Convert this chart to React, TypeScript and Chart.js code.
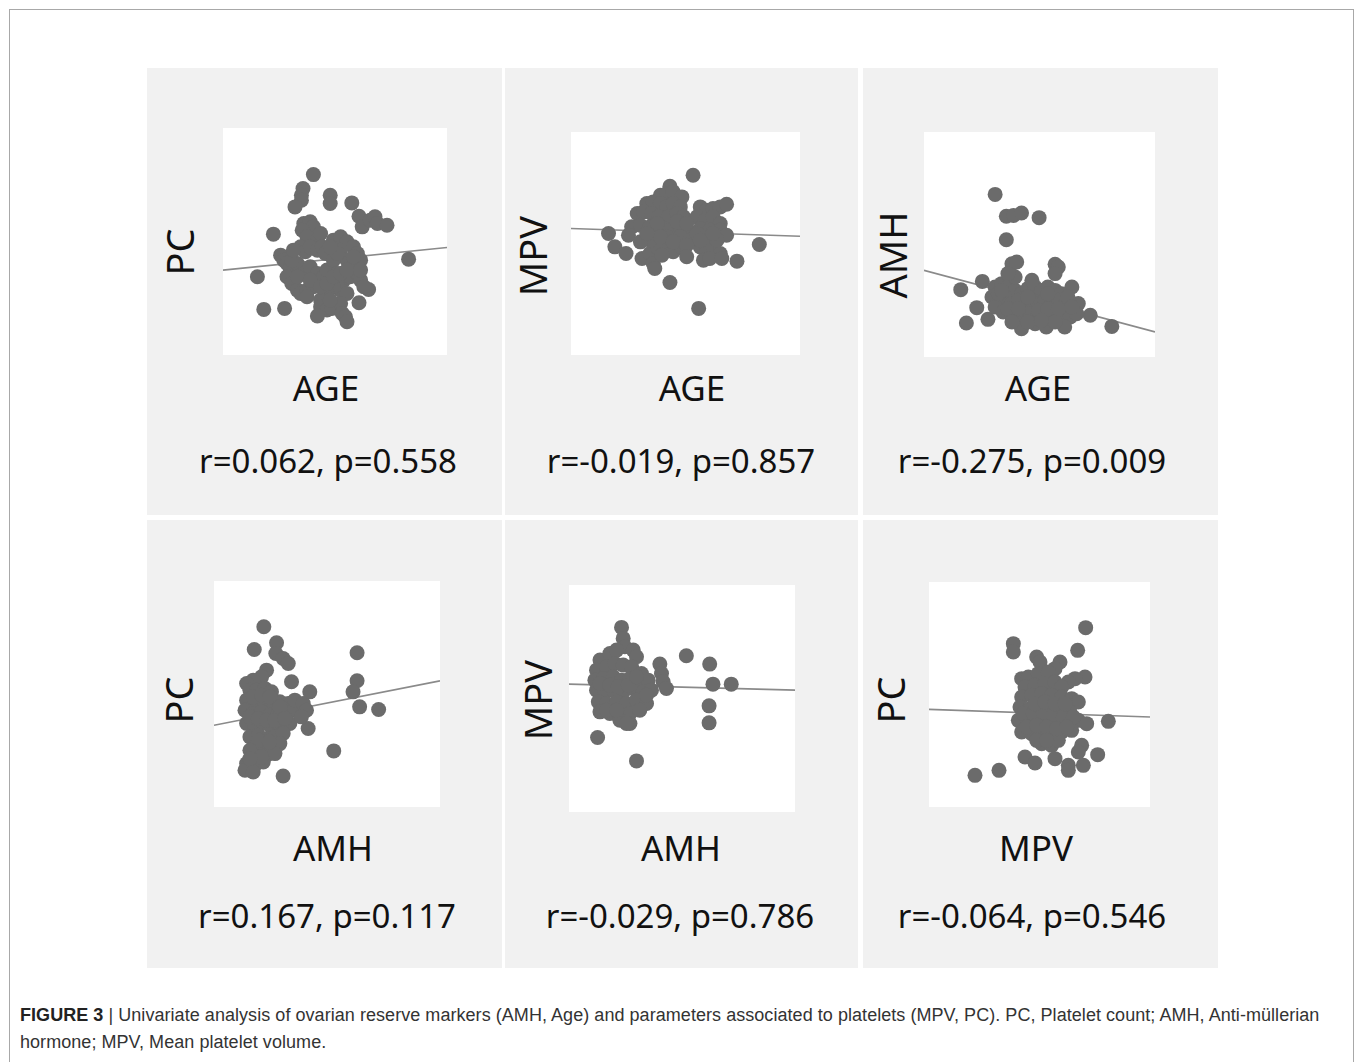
import React, { useEffect, useRef } from "react";
import { Chart, registerables } from "chart.js";

Chart.register(...registerables);

// ---------- DATA (x, y) ----------
// Panel 1: AGE (x) vs PC (y)
const ageVsPc: [number, number][] = [
  [29.3, 371], [28.0, 350], [27.8, 340], [27.8, 332.5], [27.0, 322.5], [31.4, 340], [31.4, 327.5],
  [34.1, 328.5], [35.0, 308.5], [35.4, 292.5], [36.4, 302.5], [37.0, 307.5], [37.3, 297.5], [38.5, 295],
  [24.3, 281.5], [28.1, 297.5], [28.9, 300], [29.3, 292.5], [27.9, 287.5], [28.5, 277.5], [29.8, 272.5],
  [30.2, 282.5], [25.2, 250], [25.6, 242.5], [26.0, 237.5], [26.4, 230], [26.0, 217.5], [26.6, 207.5],
  [27.3, 197.5], [27.7, 192.5], [28.5, 197.5], [29.3, 202.5], [27.7, 262.5], [28.3, 255], [28.9, 262.5],
  [29.8, 257.5], [30.4, 262.5], [27.3, 237.5], [28.1, 222.5], [28.9, 232.5], [29.8, 222.5], [30.8, 252.5],
  [30.6, 217.5], [31.0, 227.5], [31.8, 272.5], [32.7, 277.5], [33.5, 270], [34.3, 262.5], [34.8, 252.5],
  [35.2, 242.5], [32.7, 257.5], [33.5, 242.5], [34.3, 232.5], [31.8, 242.5], [32.3, 222.5], [33.1, 212.5],
  [33.9, 217.5], [34.8, 222.5], [35.2, 212.5], [32.7, 197.5], [33.5, 192.5], [31.8, 202.5], [31.0, 192.5],
  [30.2, 182.5], [36.2, 198.5], [30.2, 172.5], [31.0, 167.5], [31.6, 170], [32.7, 177.5], [32.9, 162.5],
  [33.3, 157.5], [33.5, 150], [29.8, 158.5], [35.0, 178.5], [23.1, 168.5], [25.7, 170], [22.3, 217.5],
  [41.2, 244], [26.6, 242.5], [27.3, 217.5], [28.9, 212.5], [30.2, 202.5], [31.0, 207.5], [31.8, 217.5],
  [32.7, 222.5], [33.5, 227.5], [34.3, 247.5], [35.2, 227.5], [35.6, 202.5], [32.3, 252.5], [31.4, 262.5],
  [26.8, 257.5], [28.5, 187.5], [31.4, 182.5],
];
const ageVsPcFit: [number, number][] = [[18, 227.5], [46, 261.5]];

// Panel 2: AGE (x) vs MPV (y)
const ageVsMpv: [number, number][] = [
  [33.3, 11.4], [30.4, 11.07], [29.2, 10.8], [30.0, 10.85], [30.8, 10.9], [31.9, 10.75], [27.5, 10.55],
  [28.3, 10.6], [29.2, 10.55], [30.0, 10.45], [30.8, 10.55], [31.7, 10.45], [26.3, 10.25], [27.1, 10.3],
  [28.1, 10.25], [29.0, 10.15], [30.2, 10.15], [31.3, 10.25], [32.1, 10.15], [34.2, 10.45], [35.0, 10.35],
  [35.8, 10.4], [36.7, 10.45], [37.5, 10.53], [33.8, 10.15], [34.8, 10.05], [35.8, 10.15], [36.7, 9.95],
  [25.6, 9.85], [26.7, 9.9], [27.9, 9.85], [29.2, 9.85], [30.4, 9.75], [31.7, 9.85], [32.5, 9.75],
  [34.2, 9.8], [35.4, 9.75], [36.7, 9.75], [37.5, 9.6], [22.7, 9.65], [25.2, 9.6], [23.5, 9.25],
  [24.9, 9.05], [26.9, 8.9], [27.9, 9.05], [28.8, 9.25], [30.0, 9.25], [30.8, 9.1], [31.9, 9.25],
  [33.3, 9.4], [34.2, 9.25], [35.0, 9.1], [35.8, 9.25], [36.7, 9.05], [34.6, 8.85], [35.4, 8.9],
  [36.9, 8.9], [28.3, 8.75], [28.5, 8.6], [38.8, 8.82], [41.6, 9.32], [30.4, 8.18], [34.0, 7.4],
  [30.0, 9.55], [31.7, 9.55], [32.9, 9.45], [27.9, 9.45], [26.7, 9.4], [28.8, 9.95], [31.3, 10.0],
  [32.5, 9.95], [33.8, 9.65], [35.0, 9.55], [36.3, 9.45], [29.2, 9.55], [30.8, 9.4], [32.5, 9.3],
  [34.2, 9.45], [35.8, 9.65], [27.5, 9.65], [29.4, 9.0], [32.5, 8.95],
];
const ageVsMpvFit: [number, number][] = [[18, 9.8], [46.7, 9.57]];

// Panel 3: AGE (x) vs AMH (y)
const ageVsAmh: [number, number][] = [
  [26.9, 10.84], [28.3, 9.38], [29.2, 9.44], [30.2, 9.6], [32.4, 9.29], [28.3, 7.82], [29.0, 6.22],
  [29.6, 6.33], [34.4, 6.18], [34.8, 6.0], [34.4, 5.56], [25.3, 5.04], [22.6, 4.49], [36.5, 4.67],
  [24.6, 3.29], [23.3, 2.27], [26.0, 2.51], [26.9, 4.67], [27.7, 4.89], [28.5, 4.67], [29.4, 4.44],
  [30.2, 4.22], [31.0, 4.56], [31.9, 4.67], [32.7, 4.44], [33.5, 4.67], [34.4, 4.44], [35.2, 4.22],
  [26.5, 4.0], [27.3, 3.78], [28.1, 4.0], [29.0, 3.56], [29.8, 3.78], [30.6, 3.33], [31.5, 3.78],
  [32.3, 3.56], [33.1, 3.78], [34.0, 3.56], [34.8, 3.78], [35.6, 3.44], [26.9, 3.33], [27.9, 3.0],
  [29.0, 2.89], [30.0, 2.67], [31.0, 2.89], [32.1, 2.67], [33.1, 2.89], [34.2, 2.67], [35.2, 2.78],
  [36.3, 2.67], [30.2, 1.89], [31.9, 2.22], [33.3, 2.0], [35.6, 2.0], [34.4, 2.33], [37.3, 3.56],
  [38.8, 2.78], [37.1, 2.89], [41.5, 2.04], [29.4, 5.33], [28.5, 5.56], [31.5, 5.11], [27.3, 4.22],
  [28.5, 3.22], [29.8, 3.22], [31.0, 4.0], [32.3, 3.11], [33.5, 3.22], [34.8, 3.22], [36.0, 4.0],
  [31.0, 2.33], [32.7, 2.44], [29.0, 2.33], [36.5, 3.33], [27.7, 4.44], [33.5, 4.22],
];
const ageVsAmhFit: [number, number][] = [[18, 5.78], [46.9, 1.67]];

// Panel 4: AMH (x) vs PC (y)
const amhVsPc: [number, number][] = [
  [3.33, 370], [2.69, 336], [4.18, 346], [4.13, 330], [4.62, 322.5], [4.96, 315], [5.18, 287.5],
  [3.51, 305], [3.18, 295], [2.62, 290], [2.18, 285], [2.4, 275], [2.84, 275], [3.4, 277.5],
  [3.84, 272.5], [2.18, 260], [2.73, 257.5], [3.29, 260], [3.84, 255], [4.4, 257.5], [4.96, 255],
  [2.07, 245], [2.62, 240], [3.18, 242.5], [3.73, 237.5], [4.29, 240], [4.84, 242.5], [5.4, 245],
  [2.18, 225], [2.73, 222.5], [3.29, 225], [3.84, 220], [4.4, 222.5], [5.07, 225], [2.4, 205],
  [2.96, 207.5], [3.51, 202.5], [4.07, 205], [4.62, 210], [2.73, 190], [3.29, 187.5], [3.84, 190],
  [4.4, 195], [2.84, 175], [3.51, 177.5], [4.07, 180], [2.18, 165], [2.73, 162.5], [3.29, 167.5],
  [2.07, 155], [2.62, 152.5], [4.62, 146.5], [5.4, 260], [5.96, 255], [6.4, 272.5], [6.18, 245],
  [6.29, 217.5], [5.84, 235], [9.56, 331], [9.56, 289], [9.29, 272.5], [9.73, 250], [11.0, 246],
  [8.0, 184], [2.4, 235], [2.96, 232.5], [3.51, 230], [4.07, 230], [3.0, 200], [3.7, 197.5],
  [2.4, 185], [3.18, 175], [2.4, 172.5], [2.62, 265], [3.18, 267.5], [3.73, 265], [4.4, 250],
  [4.73, 232.5],
];
const amhVsPcFit: [number, number][] = [[0, 222.5], [15.1, 289]];

// Panel 5: AMH (x) vs MPV (y)
const amhVsMpv: [number, number][] = [
  [3.51, 11.53], [3.62, 11.2], [3.73, 10.95], [2.07, 10.55], [2.73, 10.75], [3.18, 10.85], [4.29, 10.85],
  [4.51, 10.65], [1.84, 10.25], [2.51, 10.35], [3.07, 10.45], [3.62, 10.4], [4.18, 10.35], [4.84, 10.15],
  [1.73, 9.95], [2.29, 10.0], [2.96, 10.05], [3.51, 9.95], [4.07, 10.0], [4.73, 9.9], [5.29, 9.95],
  [1.84, 9.65], [2.4, 9.6], [2.96, 9.65], [3.62, 9.6], [4.29, 9.7], [4.96, 9.6], [5.51, 9.65],
  [1.96, 9.3], [2.51, 9.25], [3.18, 9.3], [3.84, 9.25], [4.51, 9.35], [5.18, 9.25], [2.07, 9.0],
  [2.73, 8.95], [3.4, 8.9], [4.07, 8.95], [4.73, 9.05], [4.07, 8.65], [3.4, 8.75], [6.07, 10.43],
  [6.18, 10.15], [6.29, 9.9], [6.51, 9.7], [7.84, 10.68], [9.4, 10.43], [9.62, 9.83], [10.84, 9.83],
  [9.36, 9.18], [9.36, 8.67], [1.91, 8.23], [4.51, 7.53], [2.07, 9.85], [2.73, 9.8], [3.29, 9.75],
  [3.96, 9.8], [4.51, 10.05], [5.18, 9.5], [2.51, 9.05], [3.18, 9.05], [3.84, 8.65],
];
const amhVsMpvFit: [number, number][] = [[0, 9.83], [15.1, 9.65]];

// Panel 6: MPV (x) vs PC (y)
const mpvVsPc: [number, number][] = [
  [10.7, 369], [8.53, 345], [8.53, 332.5], [10.46, 335], [9.23, 325], [9.33, 317.5], [9.93, 317.5],
  [9.78, 307.5], [8.78, 292.5], [8.98, 295], [9.28, 300], [9.58, 302.5], [10.68, 295], [10.38, 292.5],
  [10.18, 287.5], [8.88, 280], [9.18, 282.5], [9.48, 285], [9.78, 287.5], [9.98, 280], [8.78, 265],
  [9.08, 267.5], [9.38, 270], [9.68, 267.5], [9.98, 265], [10.28, 262.5], [10.48, 257.5], [8.73, 250],
  [9.03, 247.5], [9.33, 252.5], [9.63, 250], [9.93, 245], [10.23, 242.5], [8.68, 230], [8.98, 227.5],
  [9.28, 232.5], [9.58, 230], [9.88, 225], [10.18, 227.5], [10.48, 230], [10.73, 225], [8.78, 212.5],
  [9.08, 210], [9.38, 215], [9.68, 210], [9.98, 212.5], [10.28, 215], [9.38, 195], [9.68, 192.5],
  [9.88, 200], [10.58, 192.5], [10.48, 182.5], [8.88, 175], [9.18, 166], [9.78, 172.5], [10.18, 162.5],
  [10.18, 155], [10.63, 162.5], [11.06, 178.5], [11.38, 228.5], [7.38, 147.5], [8.1, 155],
  [8.83, 240], [9.13, 240], [9.43, 242.5], [9.73, 237.5], [10.03, 235], [10.33, 235], [8.93, 220],
  [9.23, 222.5], [9.53, 220], [9.83, 217.5], [10.13, 220], [9.23, 200], [9.53, 200], [9.18, 255],
  [9.48, 257.5], [9.78, 255], [10.08, 255],
];
const mpvVsPcFit: [number, number][] = [[6, 246.5], [12.63, 235]];

const xLabels = ["AGE", "AGE", "AGE", "AMH", "AMH", "MPV"];
const yLabels = ["PC", "MPV", "AMH", "PC", "MPV", "PC"];
const statLabels = [
  "r=0.062, p=0.558",
  "r=-0.019, p=0.857",
  "r=-0.275, p=0.009",
  "r=0.167, p=0.117",
  "r=-0.029, p=0.786",
  "r=-0.064, p=0.546",
];
const xRanges: [number, number][] = [[18, 46], [18, 46.7], [18, 46.9], [0, 15.1], [0, 15.1], [6, 12.63]];
const yRanges: [number, number][] = [[100, 441], [6, 12.7], [0, 15], [100, 438.5], [6, 12.8], [100, 437.5]];
const seriesList = [ageVsPc, ageVsMpv, ageVsAmh, amhVsPc, amhVsMpv, mpvVsPc];
const fitList = [ageVsPcFit, ageVsMpvFit, ageVsAmhFit, amhVsPcFit, amhVsMpvFit, mpvVsPcFit];

// ---------- LAYOUT (page coordinates) ----------
type Box = { l: number; t: number; w: number; h: number };
const cells: Box[] = [
  { l: 147, t: 68, w: 355, h: 447 },
  { l: 505, t: 68, w: 353, h: 447 },
  { l: 863, t: 68, w: 355, h: 447 },
  { l: 147, t: 520, w: 355, h: 448 },
  { l: 505, t: 520, w: 353, h: 448 },
  { l: 863, t: 520, w: 355, h: 448 },
];
const plots: Box[] = [
  { l: 223, t: 128, w: 224, h: 227 },
  { l: 571, t: 132, w: 229, h: 223 },
  { l: 924, t: 132, w: 231, h: 225 },
  { l: 214, t: 581, w: 226, h: 226 },
  { l: 569, t: 585, w: 226, h: 227 },
  { l: 929, t: 582, w: 221, h: 225 },
];
const yLabelPos = [[179, 252], [532, 256], [892, 255], [178, 700], [537, 700], [890, 700]];
const xLabelPos = [[326, 387], [692, 387], [1038, 387], [333, 847], [681, 847], [1036, 847]];
const statPos = [[328, 460], [681, 460], [1032, 460], [327, 915], [680, 915], [1032, 915]];

const FONT = '"Noto Sans", "Open Sans", sans-serif';

function ScatterPanel({ idx }: { idx: number }) {
  const ref = useRef<HTMLCanvasElement | null>(null);
  const p = plots[idx];
  useEffect(() => {
    if (!ref.current) return;
    const pts = seriesList[idx].map(([x, y]) => ({ x, y }));
    const fit = fitList[idx].map(([x, y]) => ({ x, y }));
    const chart = new Chart(ref.current, {
      type: "scatter",
      data: {
        datasets: [
          {
            type: "line",
            data: fit,
            borderColor: "#8a8a8a",
            borderWidth: 1.6,
            pointRadius: 0,
            fill: false,
            order: 2,
          } as any,
          {
            type: "scatter",
            data: pts,
            pointRadius: 7.5,
            pointHoverRadius: 7.5,
            backgroundColor: "#6b6b6b",
            borderWidth: 0,
            order: 1,
          } as any,
        ],
      },
      options: {
        animation: false,
        responsive: false,
        maintainAspectRatio: false,
        devicePixelRatio: 1,
        events: [],
        layout: { padding: 0, autoPadding: false },
        plugins: { legend: { display: false }, tooltip: { enabled: false }, title: { display: false } },
        scales: {
          x: { type: "linear", min: xRanges[idx][0], max: xRanges[idx][1], display: false },
          y: { type: "linear", min: yRanges[idx][0], max: yRanges[idx][1], display: false },
        },
      } as any,
    });
    return () => chart.destroy();
  }, [idx]);
  return (
    <canvas
      ref={ref}
      width={p.w}
      height={p.h}
      style={{ position: "absolute", left: p.l, top: p.t, width: p.w, height: p.h, background: "#ffffff" }}
    />
  );
}

function centered(x: number, y: number, rotate = false): React.CSSProperties {
  return {
    position: "absolute",
    left: x,
    top: y,
    transform: `translate(-50%, -50%)${rotate ? " rotate(-90deg)" : ""}`,
    whiteSpace: "nowrap",
    lineHeight: 1,
    fontFamily: FONT,
    color: "#111",
  };
}

export default function App() {
  return (
    <div
      style={{
        position: "absolute",
        left: 0,
        top: 0,
        width: 1357,
        height: 1062,
        overflow: "hidden",
        background: "#fff",
      }}
    >
      <div
        style={{
          position: "absolute",
          left: 9,
          top: 9,
          width: 1345,
          height: 1100,
          boxSizing: "border-box",
          borderTop: "1px solid #a8a8a8",
          borderLeft: "1px solid #a8a8a8",
          borderRight: "1px solid #a8a8a8",
        }}
      />
      {cells.map((c, i) => (
        <div
          key={"c" + i}
          style={{ position: "absolute", left: c.l, top: c.t, width: c.w, height: c.h, background: "#f1f1f1" }}
        />
      ))}
      {cells.map((_, i) => (
        <ScatterPanel key={"p" + i} idx={i} />
      ))}
      {cells.map((_, i) => (
        <React.Fragment key={"t" + i}>
          <div style={{ ...centered(yLabelPos[i][0], yLabelPos[i][1], true), fontSize: 38 }}>{yLabels[i]}</div>
          <div style={{ ...centered(xLabelPos[i][0], xLabelPos[i][1]), fontSize: 35 }}>{xLabels[i]}</div>
          <div style={{ ...centered(statPos[i][0], statPos[i][1]), fontSize: 33 }}>{statLabels[i]}</div>
        </React.Fragment>
      ))}
      <div
        style={{
          position: "absolute",
          left: 20,
          top: 1002,
          fontFamily: '"Liberation Sans", Arial, sans-serif',
          fontSize: 18,
          lineHeight: "27px",
          color: "#333",
          whiteSpace: "nowrap",
          letterSpacing: "0.05px",
        }}
      >
        <span style={{ fontWeight: "bold", color: "#222" }}>FIGURE 3</span>
        {" | Univariate analysis of ovarian reserve markers (AMH, Age) and parameters associated to platelets (MPV, PC). PC, Platelet count; AMH, Anti-müllerian"}
        <br />
        {"hormone; MPV, Mean platelet volume."}
      </div>
    </div>
  );
}
